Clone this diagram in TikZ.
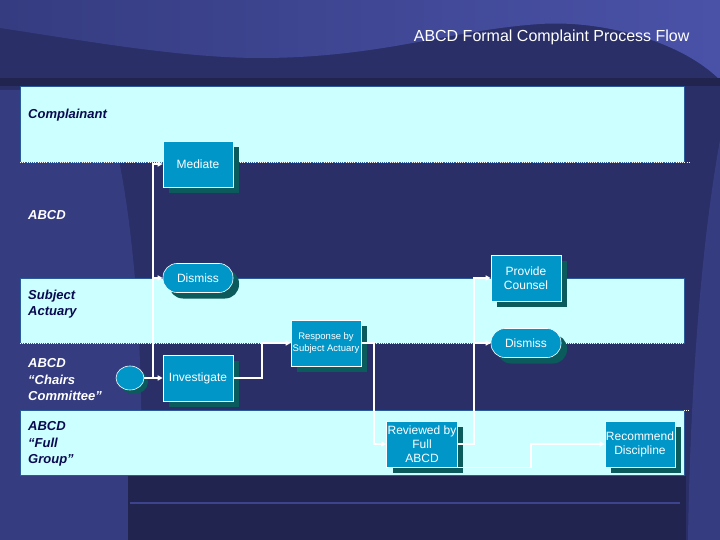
\documentclass[tikz,border=0pt]{standalone}
\usepackage{fontspec}
\setmainfont{Liberation Sans}
\usetikzlibrary{arrows.meta,shadows,shapes.geometric,shadings}

\definecolor{slide}{HTML}{2A2F68}
\definecolor{slidedeep}{HTML}{20244F}
\definecolor{slideglow}{HTML}{4A52A8}
\definecolor{slidemid}{HTML}{353C80}
\definecolor{lanecyan}{HTML}{CCFFFF}
\definecolor{laneedge}{HTML}{2A5A9A}
\definecolor{lanenavy}{HTML}{0A0A50}
\definecolor{taskblue}{HTML}{0096C8}
\definecolor{taskshade}{HTML}{0B5A5C}

\begin{document}
\begin{tikzpicture}[x=1pt,y=-1pt,
  lane/.style={fill=lanecyan,draw=laneedge,line width=0.6pt},
  lanetext/.style={anchor=west,align=left,inner sep=0pt,
    font=\bfseries\itshape\fontsize{13}{16.5}\selectfont},
  task/.style={draw=white,line width=0.6pt,fill=taskblue,text=white,
    minimum width=70pt,minimum height=46pt,inner sep=1pt,align=center,
    font=\fontsize{12}{14}\selectfont,
    drop shadow={shadow xshift=6pt,shadow yshift=-6pt,fill=taskshade,opacity=1}},
  stopbox/.style={task,minimum height=29pt,rounded corners=14pt},
  flow/.style={draw=white,line width=1.4pt,-{Triangle[length=5pt,width=5pt]}},
  laneline/.style={white,line width=1pt,dash pattern=on 1pt off 1.2pt}]

% background
\fill[slide] (0,0) rectangle (720,540);
\shade[left color=slidemid,right color=slideglow] (0,0) -- (720,0) -- (720,80)
  .. controls (680,40) and (600,20) .. (540,24)
  .. controls (450,30) and (380,58) .. (260,58)
  .. controls (180,58) and (80,40) .. (0,28) -- cycle;
\fill[slidemid] (0,90) -- (100,90) .. controls (140,200) and (145,400) .. (140,540)
  -- (0,540) -- cycle;
\fill[slidemid] (720,140) .. controls (700,250) and (690,400) .. (688,540) -- (720,540) -- cycle;
\fill[slidedeep] (128,476) rectangle (686,540);
\fill[slidedeep] (0,78) rectangle (720,86);
\draw[slideglow,line width=1.2pt,opacity=0.7] (130,503) -- (680,503);

% lanes
\draw[lane] (20,86) rectangle (684,162);
\draw[lane] (20,278) rectangle (684,343);
\draw[lane] (20,410) rectangle (684,475);
\draw[laneline] (20,163) -- (690,163);
\draw[laneline] (20,343) -- (684,343);
\draw[laneline] (684,410) -- (690,410);

% title and lane names
\node[anchor=east,text=white,font=\fontsize{16}{18}\selectfont] (title) at (693,37)
  {ABCD Formal Complaint Process Flow};
\node[lanetext,text=lanenavy] (complainant) at (28,115) {Complainant};
\node[lanetext,text=white] (abcd) at (28,215) {ABCD};
\node[lanetext,text=lanenavy] (actuary) at (28,304) {Subject\\Actuary};
\node[lanetext,text=white] (chairs) at (28,380) {ABCD\\“Chairs\\Committee”};
\node[lanetext,text=lanenavy] (fullgroup) at (28,444) {ABCD\\“Full\\Group”};

% steps
\node[ellipse,draw=white,line width=0.6pt,fill=taskblue,minimum width=28pt,
  minimum height=24pt,inner sep=0pt,
  drop shadow={shadow xshift=4pt,shadow yshift=-4pt,fill=taskshade,opacity=1}]
  (start) at (130,378) {};
\node[task] (mediate) at (198,164) {Mediate};
\node[stopbox] (dismissA) at (198,278) {Dismiss};
\node[task] (investigate) at (198,378) {Investigate};
\node[task,font=\fontsize{9.5}{12}\selectfont] (response) at (326,343)
  {Response by\\Subject Actuary};
\node[task] (counsel) at (526,278) {Provide\\Counsel};
\node[stopbox] (dismissB) at (526,343) {Dismiss};
\node[task] (reviewed) at (422,444) {Reviewed by\\Full\\ABCD};
\node[task] (recommend) at (640,444) {Recommend\\Discipline};

% columns where the flows turn
\coordinate (colA) at (153,0);
\coordinate (colB) at (262,0);
\coordinate (colC) at (374,0);
\coordinate (colD) at (474,0);
\coordinate (colE) at (531,0);

% flows
\draw[flow] (start.east) -- (investigate.west);
\draw[flow] (start.east -| colA) |- (mediate.west);
\draw[flow] (start.east -| colA) |- (dismissA.west);
\draw[flow] (investigate.east) -- (investigate.east -| colB) |- (response.west);
\draw[flow] (response.east) -- (response.east -| colC) |- (reviewed.west);
\draw[flow] (reviewed.east) -- (reviewed.east -| colD) |- (counsel.west);
\draw[flow] (reviewed.east -| colD) |- (dismissB.west);
\draw[flow] (reviewed.south east) -- (reviewed.south east -| colE) |- (recommend.west);

\end{tikzpicture}
\end{document}
